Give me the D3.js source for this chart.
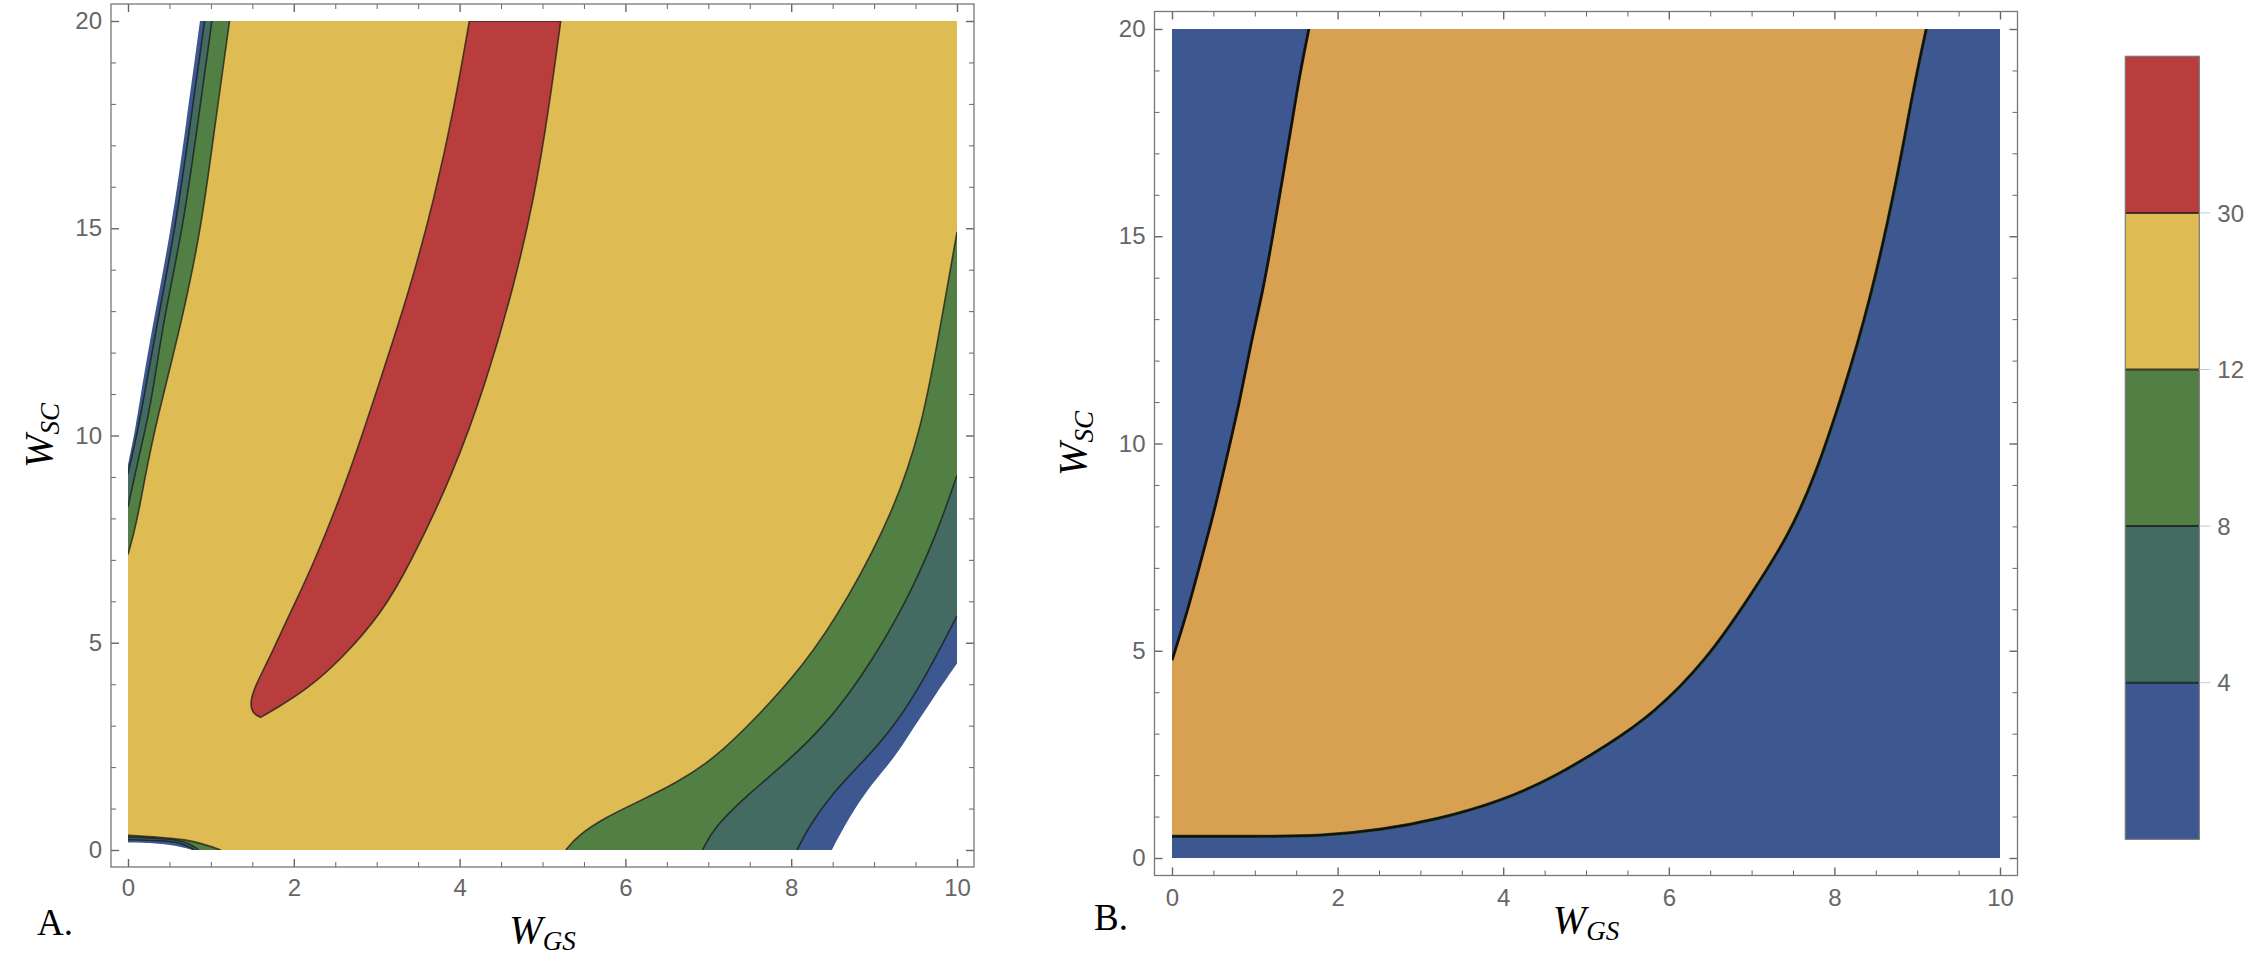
<!DOCTYPE html>
<html>
<head>
<meta charset="utf-8">
<script src="https://cdn.jsdelivr.net/npm/d3@7/dist/d3.min.js"></script>
<style>
  body { margin: 0; background: #fff; }
</style>
</head>
<body>
<svg id="drawing_region"></svg>
<script>
// contour levels shown on the colour bar
const levels = [4, 8, 12, 30];
const xMajorTicks = [0, 2, 4, 6, 8, 10];
const yMajorTicks = [0, 5, 10, 15, 20];

// panel A contour boundaries, points are [W_GS, W_SC]
// top-left strip
const aTLGreenYellow = [[0,7.13],[0.08,7.71],[0.14,8.28],[0.2,8.93],[0.28,9.73],[0.37,10.53],[0.47,11.33],[0.663,12.9],[0.884,15],[1.05,17.5],[1.225,20]];
const aTLTealGreen   = [[0,8.28],[0.07,8.93],[0.16,9.73],[0.25,10.53],[0.32,11.33],[0.44,12.9],[0.663,15],[0.84,17.5],[1.012,20]];
const aTLBlueTeal    = [[0,9.08],[0.12,10.13],[0.229,11.33],[0.37,12.9],[0.571,15],[0.75,17.5],[0.924,20]];
const aTLWhiteBlue   = [[0,9.3],[0.088,10.13],[0.181,11.33],[0.32,12.9],[0.523,15],[0.7,17.5],[0.868,20]];
// bottom-right
const aBRGreenYellow = [[5.28,0],[5.42,0.34],[5.76,0.79],[6.15,1.16],[6.61,1.61],[7.07,2.2],[7.53,3.09],[8.15,4.43],[8.69,6.07],[9.23,8.15],[9.58,10.2],[9.81,12.76],[10,14.91]];
const aBRTealGreen   = [[6.93,0],[7.07,0.555],[7.49,1.36],[7.97,2.16],[8.4,3.0],[8.84,4.13],[9.38,5.92],[9.77,7.7],[10,9.04]];
const aBRBlueTeal    = [[8.07,0],[8.21,0.555],[8.49,1.36],[8.88,2.16],[9.23,2.94],[9.61,4.13],[10,5.65]];
const aBRWhiteBlue   = [[8.49,0],[8.635,0.555],[8.875,1.36],[9.22,2.16],[9.38,2.65],[9.77,3.84],[10,4.5]];
// bottom-left sliver
const aBLGreenYellow = [[0,0.355],[0.38,0.31],[0.7,0.25],[0.9,0.15],[1.12,0]];
const aBLTealGreen   = [[0,0.31],[0.4,0.28],[0.6,0.24],[0.75,0.15],[0.85,0]];
const aBLBlueTeal    = [[0,0.25],[0.4,0.23],[0.6,0.19],[0.72,0.1],[0.8,0]];
const aBLWhiteBlue   = [[0,0.18],[0.3,0.17],[0.58,0.11],[0.78,0]];
// red band (level 30): left edge tip->top, right edge top->tip
const aRedLeft  = [[1.6,3.2],[1.5,3.3],[1.47,3.55],[1.53,3.95],[1.707,4.63],[1.95,5.7],[2.229,6.85],[2.671,9.06],[3.033,11.28],[3.394,13.49],[3.695,15.71],[3.936,17.92],[4.117,20]];
const aRedRight = [[5.22,20],[5.08,17.92],[4.9,15.71],[4.64,13.49],[4.32,11.28],[3.92,9.06],[3.39,6.85],[3.07,5.74],[2.59,4.63],[2.15,3.86],[1.79,3.42],[1.6,3.2]];

// panel B boundaries
const bLeftEdge  = [[0,4.77],[0.168,5.82],[0.344,7.13],[0.521,8.44],[0.671,9.75],[0.822,11.05],[0.946,12.36],[1.097,13.67],[1.215,14.98],[1.326,16.29],[1.437,17.6],[1.542,18.9],[1.653,20]];
const bRightEdge = [[0,0.52],[1.0,0.52],[1.82,0.53],[2.54,0.68],[3.19,0.92],[3.98,1.37],[4.63,1.96],[5.28,2.75],[5.81,3.47],[6.46,4.78],[6.99,6.34],[7.45,7.78],[7.77,9.22],[8.1,11.19],[8.43,13.41],[8.75,16.29],[8.95,18.51],[9.11,20]];

const colors = { blue: '#3d5891', teal: '#436b62', green: '#527f44', yellow: '#debb53', red: '#b93d3d', orange: '#d8a151' };
const bandColors = [colors.blue, colors.teal, colors.green, colors.yellow, colors.red];

const svg = d3.select('#drawing_region')
    .attr('width', 2262)
    .attr('height', 966);

class ContourPanel {
    constructor( config ) {
        this.config = config;
        this.init();
    }

    init() {
        let self = this;
        const c = self.config;

        self.x = d3.scaleLinear().domain([0, 10]).range([c.left, c.right]);
        self.y = d3.scaleLinear().domain([0, 20]).range([c.bottom, c.top]);

        self.g = svg.append('g');
        self.g.append('clipPath').attr('id', 'clip' + c.id)
            .append('rect')
            .attr('x', c.left).attr('y', c.top)
            .attr('width', c.right - c.left).attr('height', c.bottom - c.top);
        self.plot = self.g.append('g').attr('clip-path', `url(#clip${c.id})`);

        self.line = d3.line()
            .x( d => self.x(d[0]) )
            .y( d => self.y(d[1]) )
            .curve(d3.curveBasis);
    }

    base( color ) {
        let self = this;
        self.plot.append('rect')
            .attr('x', self.x(0)).attr('y', self.y(20))
            .attr('width', self.x(10) - self.x(0))
            .attr('height', self.y(0) - self.y(20))
            .attr('fill', color);
    }

    // area between a boundary curve and one corner of the plot
    region( pts, corner, color ) {
        let self = this;
        const d = self.line(pts) + `L${self.x(corner[0])},${self.y(corner[1])}Z`;
        self.plot.append('path').attr('d', d).attr('fill', color);
    }

    edge( pts, stroke, width ) {
        let self = this;
        self.plot.append('path')
            .attr('d', self.line(pts))
            .attr('fill', 'none')
            .attr('stroke', stroke)
            .attr('stroke-width', width)
            .attr('stroke-linejoin', 'round');
    }

    axes() {
        let self = this;
        const c = self.config, p = c.pad;
        const fl = c.left - p, fr = c.right + p, ft = c.top - p, fb = c.bottom + p;

        const style = (g, w) => {
            g.select('.domain').remove();
            g.attr('font-family', '"Liberation Sans", Arial, sans-serif').attr('font-size', 24);
            g.selectAll('line').attr('stroke', '#666').attr('stroke-width', w);
            g.selectAll('text').attr('fill', '#666');
        };
        const xMinor = d3.range(0, 10.01, 0.5).filter( v => !xMajorTicks.includes(v) );
        const yMinor = d3.range(0, 20.01, 1).filter( v => !yMajorTicks.includes(v) );

        const put = (axis, tx, ty, w) => self.g.append('g')
            .attr('transform', `translate(${tx},${ty})`)
            .call(axis).call(g => style(g, w));

        put(d3.axisBottom(self.x).tickValues(xMajorTicks).tickSize(-8).tickPadding(c.xPad), 0, fb, 1.4);
        put(d3.axisBottom(self.x).tickValues(xMinor).tickSize(-5).tickFormat(''), 0, fb, 1);
        put(d3.axisTop(self.x).tickValues(xMajorTicks).tickSize(-8).tickFormat(''), 0, ft, 1.4);
        put(d3.axisTop(self.x).tickValues(xMinor).tickSize(-5).tickFormat(''), 0, ft, 1);
        put(d3.axisLeft(self.y).tickValues(yMajorTicks).tickSize(-8).tickPadding(9), fl, 0, 1.4);
        put(d3.axisLeft(self.y).tickValues(yMinor).tickSize(-5).tickFormat(''), fl, 0, 1);
        put(d3.axisRight(self.y).tickValues(yMajorTicks).tickSize(-8).tickFormat(''), fr, 0, 1.4);
        put(d3.axisRight(self.y).tickValues(yMinor).tickSize(-5).tickFormat(''), fr, 0, 1);

        self.g.append('rect')
            .attr('x', fl).attr('y', ft)
            .attr('width', fr - fl).attr('height', fb - ft)
            .attr('fill', 'none')
            .attr('stroke', '#777')
            .attr('stroke-width', 1.3);

        // axis titles
        const serif = '"Liberation Serif", "Times New Roman", serif';
        const xt = self.g.append('text')
            .attr('x', self.x(5)).attr('y', c.xTitleY)
            .attr('text-anchor', 'middle')
            .attr('font-family', serif).attr('font-style', 'italic')
            .attr('font-size', 40).attr('fill', '#000');
        xt.append('tspan').text('W');
        xt.append('tspan').attr('font-size', 27).attr('dy', 7).text('GS');

        const yt = self.g.append('text')
            .attr('transform', `translate(${c.yTitleX},${self.y(10)}) rotate(-90)`)
            .attr('text-anchor', 'middle')
            .attr('font-family', serif).attr('font-style', 'italic')
            .attr('font-size', 40).attr('fill', '#000');
        yt.append('tspan').text('W');
        yt.append('tspan').attr('font-size', 27).attr('dy', 7).text('SC');

        self.g.append('text')
            .attr('x', c.tagX).attr('y', c.tagY)
            .attr('font-family', serif)
            .attr('font-size', 37).attr('fill', '#000')
            .text(c.tag);
    }
}

// ---------- panel A ----------
const panelA = new ContourPanel({ id: 'A', left: 128, right: 957, top: 21, bottom: 850, pad: 17,
    xPad: 12, xTitleY: 943, yTitleX: 52, tag: 'A.', tagX: 37, tagY: 935 });
panelA.base(colors.yellow);
panelA.region(aTLGreenYellow, [0, 20], colors.green);
panelA.region(aTLTealGreen, [0, 20], colors.teal);
panelA.region(aTLBlueTeal, [0, 20], colors.blue);
panelA.region(aTLWhiteBlue, [0, 20], '#fff');
panelA.region(aBRGreenYellow, [10, 0], colors.green);
panelA.region(aBRTealGreen, [10, 0], colors.teal);
panelA.region(aBRBlueTeal, [10, 0], colors.blue);
panelA.region(aBRWhiteBlue, [10, 0], '#fff');
panelA.region(aBLGreenYellow, [0, 0], colors.green);
panelA.region(aBLTealGreen, [0, 0], colors.teal);
panelA.region(aBLBlueTeal, [0, 0], colors.blue);
panelA.region(aBLWhiteBlue, [0, 0], '#fff');
panelA.plot.append('path')
    .attr('d', panelA.line(aRedLeft) + panelA.line(aRedRight).replace(/^M/, 'L') + 'Z')
    .attr('fill', colors.red)
    .attr('stroke', 'rgba(25,25,25,0.75)')
    .attr('stroke-width', 1.6)
    .attr('stroke-linejoin', 'round');
[aTLGreenYellow, aTLTealGreen, aTLBlueTeal, aBRGreenYellow, aBRTealGreen, aBRBlueTeal,
 aBLGreenYellow, aBLTealGreen, aBLBlueTeal].forEach( pts => panelA.edge(pts, 'rgba(25,25,25,0.75)', 1.6) );
panelA.axes();

// ---------- panel B ----------
const panelB = new ContourPanel({ id: 'B', left: 1172, right: 2000, top: 29, bottom: 858, pad: 17.5,
    xPad: 13, xTitleY: 933, yTitleX: 1086, tag: 'B.', tagX: 1094, tagY: 930 });
panelB.base(colors.blue);
panelB.region(bRightEdge, [0, 20], colors.orange);
panelB.region(bLeftEdge, [0, 20], colors.blue);
panelB.edge(bRightEdge, '#2f4a1f', 3.2);
panelB.edge(bRightEdge, '#111', 2.2);
panelB.edge(bLeftEdge, '#111', 2.8);
panelB.axes();

// ---------- colour bar ----------
const cb = { left: 2125.3, right: 2199.3, top: 56.3, bottom: 839.3 };
const cbY = d3.scaleLinear().domain([0, bandColors.length]).range([cb.bottom, cb.top]);
const bar = svg.append('g');
bar.selectAll('rect.band')
    .data(bandColors)
    .enter()
    .append('rect')
    .attr('class', 'band')
    .attr('x', cb.left)
    .attr('y', (d, i) => cbY(i + 1))
    .attr('width', cb.right - cb.left)
    .attr('height', (d, i) => cbY(i) - cbY(i + 1))
    .attr('fill', d => d);
bar.selectAll('line.sep')
    .data(levels)
    .enter()
    .append('line')
    .attr('class', 'sep')
    .attr('x1', cb.left).attr('x2', cb.right)
    .attr('y1', (d, i) => cbY(i + 1)).attr('y2', (d, i) => cbY(i + 1))
    .attr('stroke', 'rgba(20,20,20,0.75)')
    .attr('stroke-width', 2);
bar.append('rect')
    .attr('x', cb.left).attr('y', cb.top)
    .attr('width', cb.right - cb.left).attr('height', cb.bottom - cb.top)
    .attr('fill', 'none')
    .attr('stroke', '#777')
    .attr('stroke-width', 1.2);
bar.selectAll('line.tick')
    .data(levels)
    .enter()
    .append('line')
    .attr('class', 'tick')
    .attr('x1', cb.right).attr('x2', cb.right + 11)
    .attr('y1', (d, i) => cbY(i + 1)).attr('y2', (d, i) => cbY(i + 1))
    .attr('stroke', '#c8c8c8')
    .attr('stroke-width', 1);
bar.selectAll('text')
    .data(levels)
    .enter()
    .append('text')
    .attr('x', cb.right + 18)
    .attr('y', (d, i) => cbY(i + 1))
    .attr('dy', '0.36em')
    .attr('font-family', '"Liberation Sans", Arial, sans-serif')
    .attr('font-size', 24)
    .attr('fill', '#666')
    .text(d => d);
</script>
</body>
</html>
